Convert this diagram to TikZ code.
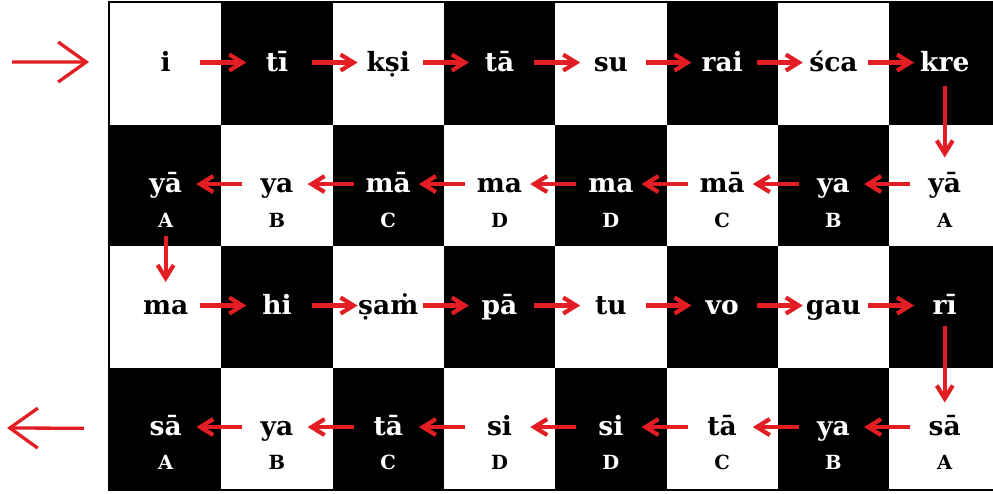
\documentclass[tikz,border=0pt]{standalone}
\usepackage{fontspec}
\setmainfont{DejaVu Serif}
\usetikzlibrary{arrows.meta}
\definecolor{arrred}{RGB}{226,30,36}
\newcommand\mysetcols[2]{\ifodd\numexpr#1+#2\relax\def\tc{white}\def\cf{black}\else\def\tc{black}\def\cf{white}\fi}
\begin{document}
\begin{tikzpicture}[x=1pt,y=-1pt,
  cell/.style={minimum width=111.3pt, minimum height=121.5pt, inner sep=0pt, outer sep=0pt, draw=none},
  word/.style={font=\bfseries\fontsize{26.5}{26.5}\selectfont, inner sep=0pt, anchor=base},
  lab/.style={font=\bfseries\fontsize{19.5}{19.5}\selectfont, inner sep=0pt, anchor=base},
  arr/.style={draw=arrred, line width=4.2pt, -{Straight Barb[length=13pt,width=16pt]}},
  bigarr/.style={draw=arrred, line width=3.3pt, -{Straight Barb[length=28pt,width=40pt]}}
]
\useasboundingbox (0,0) rectangle (993,493);
\begin{scope}
\clip (0,0) rectangle (993,493);
\foreach \j in {1,...,4}{
  \foreach \i in {1,...,8}{
    \mysetcols{\i}{\j}
    \node[cell, fill=\cf] (c\j\i) at ({110+111.3*(\i-0.5)},{3+121.5*(\j-0.5)}) {};
  }
}
\draw[line width=2.5pt] (109,2) rectangle (1010,490);
\end{scope}
% words
\foreach \w [count=\i] in {i,tī,kṣi,tā,su,rai,śca,kre}{
  \mysetcols{\i}{1}
  \node[word, text=\tc] (w1\i) at ([yshift=-68pt]c1\i.north) {\w};
}
\foreach \w/\l [count=\i] in {yā/A,ya/B,mā/C,ma/D,ma/D,mā/C,ya/B,yā/A}{
  \mysetcols{\i}{2}
  \node[word, text=\tc] (w2\i) at ([yshift=-68pt]c2\i.north) {\w};
  \node[lab, text=\tc] (l2\i) at ([yshift=-103pt]c2\i.north) {\l};
}
\foreach \w [count=\i] in {ma,hi,ṣaṁ,pā,tu,vo,gau,rī}{
  \mysetcols{\i}{3}
  \node[word, text=\tc] (w3\i) at ([yshift=-68pt]c3\i.north) {\w};
}
\foreach \w/\l [count=\i] in {sā/A,ya/B,tā/C,si/D,si/D,tā/C,ya/B,sā/A}{
  \mysetcols{\i}{4}
  \node[word, text=\tc] (w4\i) at ([yshift=-68pt]c4\i.north) {\w};
  \node[lab, text=\tc] (l4\i) at ([yshift=-102pt]c4\i.north) {\l};
}
% horizontal arrows
\foreach \i [evaluate=\i as \k using int(\i+1)] in {1,...,7}{
  \draw[arr] ([shift={(-21pt,1.2pt)}]c1\i.east) -- ([shift={(25pt,1.2pt)}]c1\k.west);
  \draw[arr] ([shift={(21pt,1.2pt)}]c2\k.west) -- ([shift={(-25pt,1.2pt)}]c2\i.east);
  \draw[arr] ([shift={(-21pt,1.2pt)}]c3\i.east) -- ([shift={(25pt,1.2pt)}]c3\k.west);
  \draw[arr] ([shift={(21pt,1.2pt)}]c4\k.west) -- ([shift={(-25pt,1.2pt)}]c4\i.east);
}
% vertical arrows
\draw[arr] ([yshift=39pt]c18.south) -- ([yshift=-33pt]c28.north);
\draw[arr] ([yshift=10pt]c21.south) -- ([yshift=-36pt]c31.north);
\draw[arr] ([yshift=42pt]c38.south) -- ([yshift=-35pt]c48.north);
% entry and exit arrows
\coordinate (start) at (12,62);
\coordinate (finish) at (7,428);
\draw[bigarr] (start) -- ([shift={(-21pt,1.7pt)}]c11.west);
\draw[bigarr] ([shift={(-26pt,0pt)}]c41.west) -- (finish);
\end{tikzpicture}
\end{document}
